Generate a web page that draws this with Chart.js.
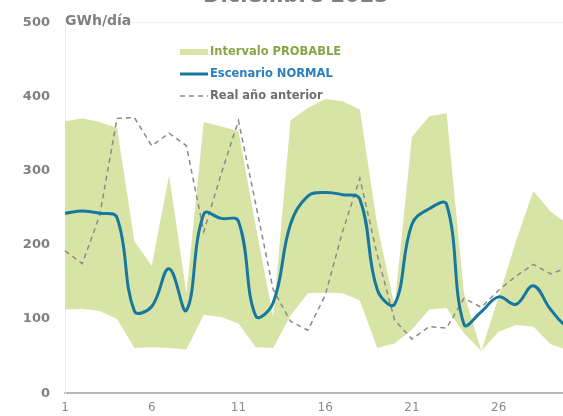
<!DOCTYPE html>
<html>
<head>
<meta charset="utf-8">
<script src="https://cdn.jsdelivr.net/npm/chart.js@4.4.1/dist/chart.umd.min.js"></script>
<style>
  html, body { margin: 0; padding: 0; background: #ffffff; overflow: hidden; width: 563px; height: 416px; }
  #wrap { position: absolute; left: 0; top: 0; width: 600px; height: 416px; }
</style>
</head>
<body>
<div id="wrap"><canvas id="c" width="600" height="416"></canvas></div>
<script>
// ---- data ----
const chartTitle = "Diciembre 2023";
const unitLabel = "GWh/día";
const days = [1,2,3,4,5,6,7,8,9,10,11,12,13,14,15,16,17,18,19,20,21,22,23,24,25,26,27,28,29,30,31];
const probableUpper = [367,371,366,358,205,172,294,135,366,360,354,225,103,368,385,397,394,383,227,118,346,374,378,135,57,130,205,273,245,228,215];
const probableLower = [113,114,111,100,61,62,61,59,106,103,94,62,61,105,135,136,135,125,61,67,86,113,115,81,57,83,92,90,66,58,60];
const normalScenario = [243,246,243,237,111,117,168,112,242,236,232,104,122,228,266,271,268,262,140,120,228,249,255,93,110,130,120,145,113,90,95];
const previousYear = [192,175,240,371,372,334,351,334,218,296,368,255,140,97,85,132,218,290,187,99,73,90,88,128,116,139,158,174,161,170,160];
const yTicks = [0,100,200,300,400,500];
const seriesNames = ["Intervalo PROBABLE", "Escenario NORMAL", "Real año anterior"];

const GREEN_FILL = '#d7e4a5';
const GREEN_TEXT = '#88a545';
const BLUE = '#17789f';
const BLUE_TEXT = '#2b7fbf';
const GRAY_LINE = '#8a8a8a';
const GRAY_TEXT = '#6e6e6e';
const AXIS_TEXT = '#808080';
const FONT = '"DejaVu Sans", Verdana, sans-serif';

const extras = {
  id: 'extras',
  afterDraw(chart) {
    const ctx = chart.ctx;
    const area = chart.chartArea;
    ctx.save();
    // title (cut off at top)
    ctx.fillStyle = '#7f7f7f';
    ctx.font = 'bold 21px ' + FONT;
    ctx.textAlign = 'center';
    ctx.textBaseline = 'alphabetic';
    ctx.fillText(chartTitle, 296, 2);
    // unit label
    ctx.fillStyle = AXIS_TEXT;
    ctx.font = 'bold 14px ' + FONT;
    ctx.textAlign = 'left';
    ctx.textBaseline = 'middle';
    ctx.fillText(unitLabel, area.left, 21);
    // legend
    const lx0 = 180, lx1 = 208, tx = 210;
    const rows = [52, 74, 96];
    ctx.font = 'bold 11.5px ' + FONT;
    ctx.textBaseline = 'middle';
    ctx.fillStyle = GREEN_FILL;
    ctx.fillRect(lx0, rows[0] - 3, lx1 - lx0, 6);
    ctx.fillStyle = GREEN_TEXT;
    ctx.fillText(seriesNames[0], tx, rows[0]);
    ctx.strokeStyle = BLUE;
    ctx.lineWidth = 3;
    ctx.beginPath(); ctx.moveTo(lx0, rows[1]); ctx.lineTo(lx1, rows[1]); ctx.stroke();
    ctx.fillStyle = BLUE_TEXT;
    ctx.fillText(seriesNames[1], tx, rows[1]);
    ctx.strokeStyle = GRAY_LINE;
    ctx.lineWidth = 1.5;
    ctx.setLineDash([5, 4]);
    ctx.beginPath(); ctx.moveTo(lx0, rows[2]); ctx.lineTo(lx1, rows[2]); ctx.stroke();
    ctx.setLineDash([]);
    ctx.fillStyle = GRAY_TEXT;
    ctx.fillText(seriesNames[2], tx, rows[2]);
    ctx.restore();
  }
};

new Chart(document.getElementById('c'), {
  type: 'line',
  data: {
    labels: days,
    datasets: [
      {
        label: 'lower',
        data: probableLower,
        borderWidth: 0,
        borderColor: 'rgba(0,0,0,0)',
        pointRadius: 0,
        fill: false,
        tension: 0,
        order: 4
      },
      {
        label: seriesNames[0],
        data: probableUpper,
        borderWidth: 0,
        borderColor: 'rgba(0,0,0,0)',
        backgroundColor: GREEN_FILL,
        pointRadius: 0,
        fill: '-1',
        tension: 0,
        order: 3
      },
      {
        label: seriesNames[2],
        data: previousYear,
        borderColor: GRAY_LINE,
        borderWidth: 1.5,
        borderDash: [5, 4],
        pointRadius: 0,
        fill: false,
        tension: 0,
        order: 2
      },
      {
        label: seriesNames[1],
        data: normalScenario,
        borderColor: BLUE,
        borderWidth: 3,
        pointRadius: 0,
        fill: false,
        tension: 0.4,
        order: 1
      }
    ]
  },
  options: {
    responsive: false,
    animation: false,
    events: [],
    layout: { padding: { top: 16, right: 10.6, bottom: 0, left: 0 } },
    plugins: {
      legend: { display: false },
      title: { display: false },
      tooltip: { enabled: false }
    },
    scales: {
      x: {
        type: 'category',
        offset: false,
        grid: { display: false, drawTicks: false },
        border: { display: true, color: '#b8b8b8', width: 2 },
        ticks: {
          autoSkip: false,
          maxRotation: 0,
          padding: 7,
          color: '#8c8c8c',
          font: { family: FONT, size: 12 },
          callback: function(val, idx) { return (idx % 5 === 0) ? String(days[idx]) : null; }
        },
        afterFit: function(scale) { scale.height = 21; }
      },
      y: {
        min: 0,
        max: 500,
        afterBuildTicks: function(scale) { scale.ticks = yTicks.map(v => ({ value: v })); },
        grid: {
          drawTicks: false,
          color: function(c) { return c.tick && c.tick.value === 500 ? 'rgba(0,0,0,0.05)' : 'rgba(0,0,0,0)'; }
        },
        border: { display: true, color: '#ececec', width: 1 },
        ticks: {
          padding: 15,
          color: AXIS_TEXT,
          font: { family: FONT, size: 13, weight: 'bold' }
        },
        afterFit: function(scale) { scale.width = 65; }
      }
    }
  },
  plugins: [extras]
});
</script>
</body>
</html>
